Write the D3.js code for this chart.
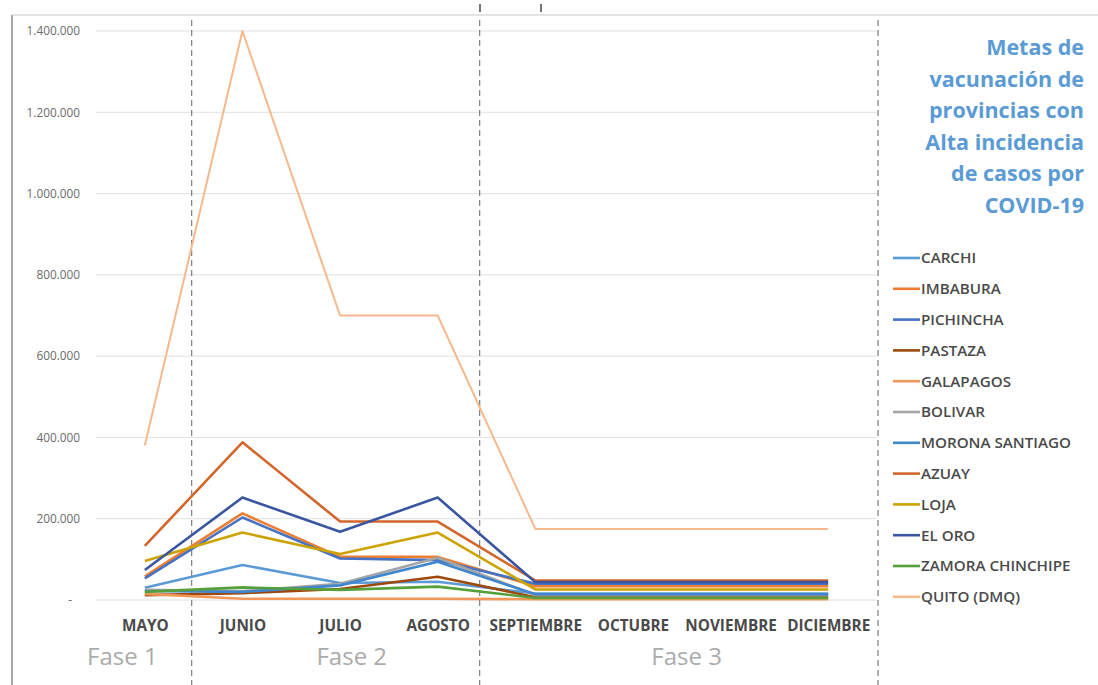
<!DOCTYPE html>
<html>
<head>
<meta charset="utf-8">
<script src="https://cdn.jsdelivr.net/npm/d3@7/dist/d3.min.js"></script>
<style>
  html, body { margin: 0; padding: 0; background: #fff; }
  svg { display: block; }
  text { font-family: "Open Sans", "Liberation Sans", sans-serif; }
</style>
</head>
<body>
<svg id="chart" width="1098" height="685"></svg>
<script>
// Months of the vaccination plan
const months = ["MAYO", "JUNIO", "JULIO", "AGOSTO", "SEPTIEMBRE", "OCTUBRE", "NOVIEMBRE", "DICIEMBRE"];

// Vaccination targets per province (doses per month)
const carchi          = [30000, 86000, 42000, 45000, 16000, 16000, 16000, 16000];
const imbabura        = [58000, 213000, 106000, 106000, 34000, 34000, 34000, 34000];
const pichincha       = [53000, 203000, 102000, 98000, 40000, 40000, 40000, 40000];
const pastaza         = [12000, 17000, 27000, 57000, 7000, 7000, 7000, 7000];
const galapagos       = [15000, 3000, 3000, 3000, 2000, 2000, 2000, 2000];
const bolivar         = [25000, 22000, 40000, 104000, 12000, 12000, 12000, 12000];
const moronaSantiago  = [22000, 20000, 36000, 94000, 14000, 14000, 14000, 14000];
const azuay           = [133000, 388000, 193000, 193000, 48000, 48000, 48000, 48000];
const loja            = [96000, 166000, 113000, 166000, 26000, 26000, 26000, 26000];
const elOro           = [74000, 252000, 168000, 252000, 44000, 44000, 44000, 44000];
const zamoraChinchipe = [20000, 31000, 25000, 33000, 5000, 5000, 5000, 5000];
const quito           = [380000, 1400000, 700000, 700000, 175000, 175000, 175000, 175000];

const seriesNames = ["CARCHI", "IMBABURA", "PICHINCHA", "PASTAZA", "GALAPAGOS", "BOLIVAR",
  "MORONA SANTIAGO", "AZUAY", "LOJA", "EL ORO", "ZAMORA CHINCHIPE", "QUITO (DMQ)"];
const seriesValues = [carchi, imbabura, pichincha, pastaza, galapagos, bolivar,
  moronaSantiago, azuay, loja, elOro, zamoraChinchipe, quito];
const seriesColors = ["#5B9BD5", "#ED7D31", "#4472C4", "#9E480E", "#F1975A", "#A5A5A5",
  "#3F86CF", "#D4662C", "#CCA300", "#3A56A0", "#56A03C", "#F6B98D"];

const yTicks = [0, 200000, 400000, 600000, 800000, 1000000, 1200000, 1400000];

const phases = [
  { label: "Fase 1", from: "MAYO", to: "MAYO", shift: -0.23 },
  { label: "Fase 2", from: "JUNIO", to: "AGOSTO", shift: 0.12 },
  { label: "Fase 3", from: "SEPTIEMBRE", to: "DICIEMBRE", shift: 0.05 }
];

const titleLines = ["Metas de", "vacunación de", "provincias con", "Alta incidencia", "de casos por", "COVID-19"];

// ---- layout ----
const svg = d3.select("#chart");
const plot = { left: 96, right: 877, top: 31, bottom: 600 };

const x = d3.scalePoint().domain(months).range([plot.left, plot.right]).padding(0.5);
const y = d3.scaleLinear().domain([0, 1400000]).range([plot.bottom, plot.top]);
const step = x.step();

const esLocale = d3.formatLocale({ decimal: ",", thousands: ".", grouping: [3], currency: ["$", ""] });
const fmt = esLocale.format(",");

// frame
svg.append("line").attr("x1", 12).attr("x2", 12).attr("y1", 15).attr("y2", 685)
  .attr("stroke", "#A6A6A6").attr("stroke-width", 2);
svg.append("line").attr("x1", 12).attr("x2", 1098).attr("y1", 15).attr("y2", 15)
  .attr("stroke", "#C8C8C8").attr("stroke-width", 1);
[480, 541].forEach(px => {
  svg.append("line").attr("x1", px).attr("x2", px).attr("y1", 4).attr("y2", 12)
    .attr("stroke", "#444").attr("stroke-width", 1.5);
});

// gridlines
svg.append("g").selectAll("line").data(yTicks).join("line")
  .attr("x1", plot.left).attr("x2", plot.right)
  .attr("y1", d => y(d)).attr("y2", d => y(d))
  .attr("stroke", "#E0E0E0").attr("stroke-width", 1);

// y axis labels
const yAxis = d3.axisLeft(y).tickValues(yTicks).tickSize(0).tickPadding(0)
  .tickFormat(d => d === 0 ? "-" : fmt(d));
const gy = svg.append("g").attr("transform", "translate(80,0)").call(yAxis);
gy.select(".domain").remove();
gy.selectAll("text").attr("font-size", 11.8).attr("fill", "#6B6B6B")
  .attr("font-family", "'Open Sans', sans-serif")
  .attr("dx", d => d === 0 ? -8 : 0);

// x axis labels
const xAxis = d3.axisBottom(x).tickSize(0).tickPadding(0);
const gx = svg.append("g").attr("transform", "translate(0,620)").call(xAxis);
gx.select(".domain").remove();
gx.selectAll("text").attr("font-size", 15.3).attr("font-weight", 700).attr("fill", "#4A4A4A")
  .attr("font-family", "'Open Sans', sans-serif").attr("dy", "0.71em");

// phase separators (dashed)
const separators = [x("JUNIO") - step * 0.52, x("SEPTIEMBRE") - step * 0.57, plot.right + 1];
svg.append("g").selectAll("line").data(separators).join("line")
  .attr("x1", d => d).attr("x2", d => d).attr("y1", 20).attr("y2", 685)
  .attr("stroke", "#7F7F7F").attr("stroke-width", 1.2).attr("stroke-dasharray", "6,4");

// phase labels
svg.append("g").selectAll("text").data(phases).join("text")
  .attr("x", d => (x(d.from) + x(d.to)) / 2 + d.shift * step)
  .attr("y", 665)
  .attr("text-anchor", "middle")
  .attr("font-size", 24).attr("font-weight", 500).attr("fill", "#ABABAB")
  .text(d => d.label);

// series lines
const line = d3.line().x((d, i) => x(months[i])).y(d => y(d));
svg.append("g").selectAll("path").data(seriesValues).join("path")
  .attr("d", d => line(d))
  .attr("fill", "none")
  .attr("stroke", (d, i) => seriesColors[i])
  .attr("stroke-width", (d, i) => i === 11 ? 2 : 2.6)
  .attr("stroke-linejoin", "round");

// title
svg.append("text")
  .attr("text-anchor", "end")
  .attr("font-size", 21.5).attr("font-weight", 700).attr("fill", "#5B9BD5")
  .selectAll("tspan").data(titleLines).join("tspan")
  .attr("x", 1084).attr("y", (d, i) => 55 + i * 31.5)
  .text(d => d);

// legend
const legend = svg.append("g").selectAll("g").data(seriesNames).join("g")
  .attr("transform", (d, i) => `translate(893,${258 + i * 30.8})`);
legend.append("line").attr("x1", 0).attr("x2", 27).attr("y1", 0).attr("y2", 0)
  .attr("stroke", (d, i) => seriesColors[i]).attr("stroke-width", 2.6);
legend.append("text").attr("x", 28).attr("y", 0).attr("dy", "0.36em")
  .attr("font-size", 15.2).attr("font-weight", 600).attr("fill", "#4A4A4A")
  .text(d => d);
</script>
</body>
</html>
